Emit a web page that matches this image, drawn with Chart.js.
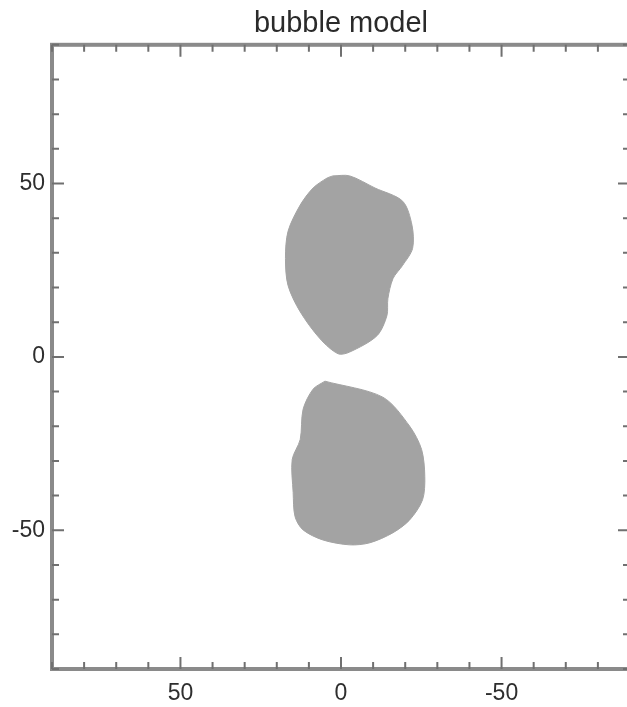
<!DOCTYPE html>
<html>
<head>
<meta charset="utf-8">
<script src="https://cdn.jsdelivr.net/npm/chart.js@4.4.1/dist/chart.umd.min.js"></script>
<style>
  html, body { margin: 0; padding: 0; background: #fff; overflow: hidden; }
  /* the reference is cropped just short of the right-hand frame */
  #wrap { width: 627px; height: 707px; overflow: hidden; }
</style>
</head>
<body>
<div id="wrap"><canvas id="bubbleChart" width="641" height="707"></canvas></div>
<script>
// outline of the two bubbles (x is drawn reversed)
const upperX = [2.5, -2.7, -10.6, -19.2, -22.1, -22.3, -19.2, -16.2, -14.6, -14.3, -11.2, -2.7, 0.9, 6.5, 12.7, 16.5, 17.3, 16.5, 12.7, 8.7, 4.3, 2.5];
const upperY = [52.2, 52.2, 48.7, 44.9, 38, 31.3, 26.4, 22.6, 16.8, 11.9, 6.1, 1.4, 0.9, 5.2, 13, 20.6, 28.4, 36.2, 43.8, 48.7, 51.6, 52.2];
const lowerX = [5.0, -13.0, -21.4, -25.1, -26.1, -25.4, -21.4, -16.2, -9.0, -2.7, 5.6, 11.8, 14.3, 14.9, 15.2, 12.7, 11.8, 8.7, 5.0];
const lowerY = [-7.0, -11.6, -20, -26.7, -34.5, -41.2, -47, -50.7, -53.6, -54.2, -52.8, -49.9, -46.1, -39.1, -29.6, -23.8, -15.1, -9.3, -7.0];

const tickLabels = [-50, 0, 50];
const minorTicks = [-90, -80, -70, -60, -50, -40, -30, -20, -10, 0, 10, 20, 30, 40, 50, 60, 70, 80, 90];

const axisColor = '#8a8a8a';
const tickColor = '#707070';
const fillColor = '#a3a3a3';

function toPoints(xs, ys) {
    return xs.map((x, i) => ({ x: x, y: ys[i] }));
}

// frame on all four sides with ticks pointing inwards
const frameTicks = {
    id: 'frameTicks',
    afterDatasetsDraw(chart) {
        const ctx = chart.ctx;
        const a = chart.chartArea;
        const xs = chart.scales.x, ys = chart.scales.y;
        ctx.save();
        ctx.strokeStyle = axisColor;
        ctx.lineWidth = 4;
        ctx.strokeRect(a.left, a.top, a.right - a.left, a.bottom - a.top);
        ctx.strokeStyle = tickColor;
        ctx.lineWidth = 2;
        ctx.beginPath();
        minorTicks.forEach(v => {
            const len = tickLabels.includes(v) ? 12 : 7;
            const px = xs.getPixelForValue(v);
            ctx.moveTo(px, a.bottom); ctx.lineTo(px, a.bottom - len);
            ctx.moveTo(px, a.top); ctx.lineTo(px, a.top + len);
            const py = ys.getPixelForValue(v);
            ctx.moveTo(a.left, py); ctx.lineTo(a.left + len, py);
            ctx.moveTo(a.right, py); ctx.lineTo(a.right - len, py);
        });
        ctx.stroke();
        ctx.restore();
    }
};

function axisOptions(reverse) {
    return {
        type: 'linear',
        min: -90,
        max: 90,
        reverse: reverse,
        grid: { display: false, drawTicks: false },
        border: { display: false },
        ticks: {
            stepSize: 10,
            autoSkip: false,
            maxRotation: 0,
            color: '#2e2e2e',
            font: { family: 'Liberation Sans', size: 23 },
            padding: 11,
            callback: v => tickLabels.includes(v) ? String(v) : ''
        }
    };
}

window.onload = function() {
    const ctx = document.getElementById('bubbleChart').getContext('2d');

    const xAxis = axisOptions(true);
    xAxis.afterFit = s => { s.height = 38; };
    const yAxis = axisOptions(false);
    yAxis.ticks.padding = 7;
    yAxis.afterFit = s => { s.width = 52; };

    new Chart(ctx, {
        type: 'scatter',
        data: {
            datasets: [{
                label: 'upper bubble',
                data: toPoints(upperX, upperY),
                showLine: true,
                fill: 'shape',
                backgroundColor: fillColor,
                borderColor: fillColor,
                borderWidth: 1,
                pointRadius: 0,
                tension: 0.3
            }, {
                label: 'lower bubble',
                data: toPoints(lowerX, lowerY),
                showLine: true,
                fill: 'shape',
                backgroundColor: fillColor,
                borderColor: fillColor,
                borderWidth: 1,
                pointRadius: 0,
                tension: 0.3
            }]
        },
        options: {
            responsive: false,
            animation: false,
            layout: { padding: 0 },
            scales: { x: xAxis, y: yAxis },
            plugins: {
                legend: { display: false },
                tooltip: { enabled: false },
                title: {
                    display: true,
                    fullSize: false,
                    text: 'bubble model',
                    color: '#2a2a2a',
                    font: { family: 'Liberation Sans', size: 29, weight: 'normal' },
                    padding: { top: 7, bottom: 3 }
                }
            }
        },
        plugins: [frameTicks]
    });
};
</script>
</body>
</html>
